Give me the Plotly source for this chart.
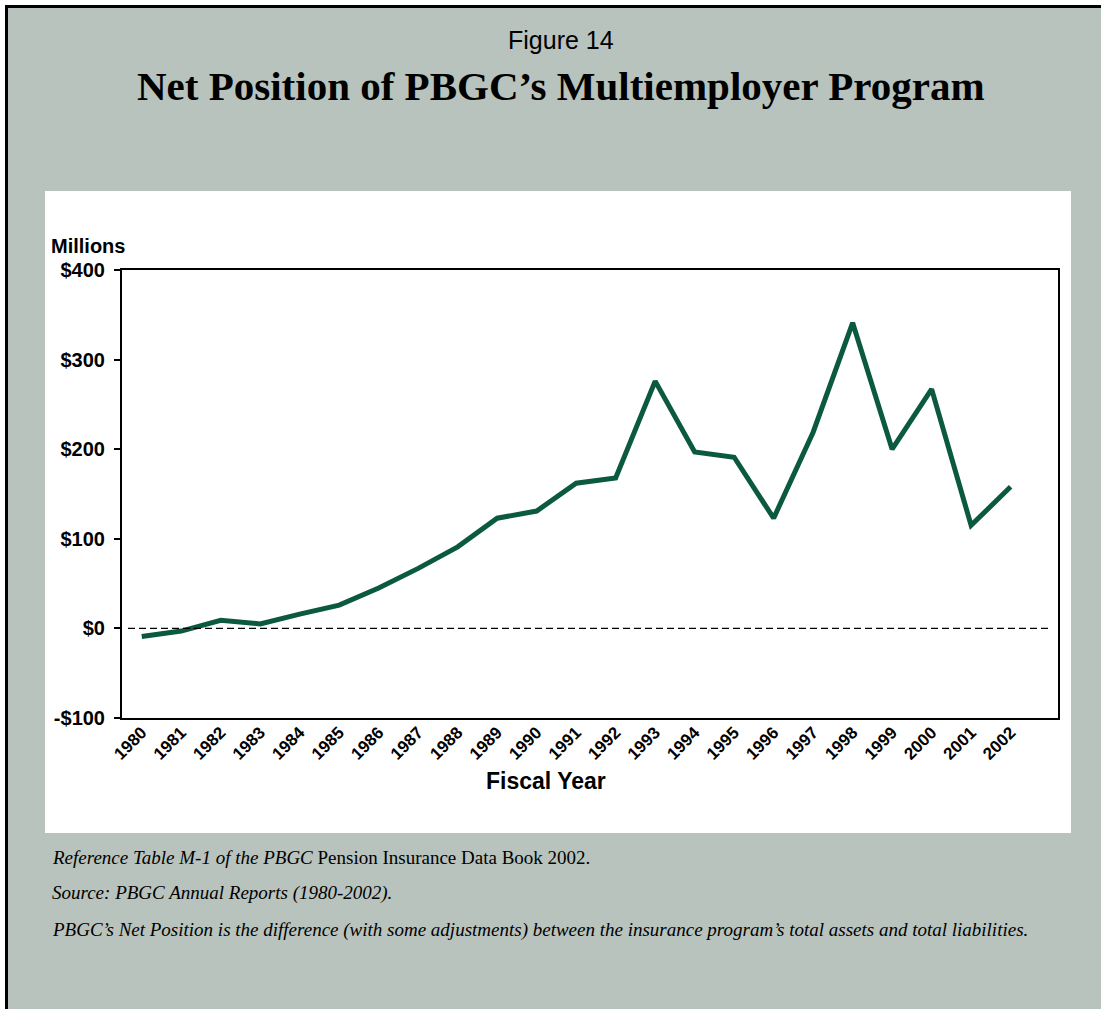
import plotly.graph_objects as go

years = [str(y) for y in range(1980, 2003)]
net_position = [-9, -3, 9, 5, 16, 26, 45, 67, 91, 123, 131, 162, 168,
                276, 197, 191, 123, 219, 341, 200, 267, 115, 158]

y_ticks = [-100, 0, 100, 200, 300, 400]
y_tick_labels = ["-$100", "$0", "$100", "$200", "$300", "$400"]

W, H = 1101, 1009
ML, MR, MT, MB = 122, 43, 270, 291
PW, PH = W - ML - MR, H - MT - MB

LINE_GREEN = "#0b5a40"
PANEL_GRAY = "#b8c3bd"
SANS = "Liberation Sans, Arial, sans-serif"
SERIF = "Liberation Serif, Times New Roman, serif"


def px(x):
    return (x - ML) / PW


def py(y):
    return (H - MB - y) / PH


fig = go.Figure()

fig.add_trace(
    go.Scatter(
        x=years,
        y=net_position,
        mode="lines",
        line=dict(color=LINE_GREEN, width=5),
        hovertemplate="%{x}: $%{y}M<extra></extra>",
    )
)

shapes = [
    # gray page
    dict(type="rect", xref="paper", yref="paper", layer="below",
         x0=px(7), x1=px(W + 5), y0=py(H + 5), y1=py(6),
         fillcolor=PANEL_GRAY, line=dict(width=0)),
    # white chart panel
    dict(type="rect", xref="paper", yref="paper", layer="below",
         x0=px(45), x1=px(1071), y0=py(833), y1=py(191),
         fillcolor="white", line=dict(width=0)),
    # black frame on left and top
    dict(type="line", xref="paper", yref="paper",
         x0=px(6.5), x1=px(6.5), y0=py(H + 5), y1=py(5),
         line=dict(color="black", width=3)),
    dict(type="line", xref="paper", yref="paper",
         x0=px(5), x1=px(W + 5), y0=py(6.5), y1=py(6.5),
         line=dict(color="black", width=3)),
    # zero line
    dict(type="line", xref="paper", yref="y",
         x0=px(128), x1=px(1050), y0=0, y1=0,
         line=dict(color="black", width=1.2, dash="7px,4px")),
]

footnotes = [
    "<i>Reference Table M-1 of the PBGC</i> Pension Insurance Data Book 2002.",
    "<i>Source: PBGC Annual Reports (1980-2002).</i>",
    "<i>PBGC’s Net Position is the difference (with some adjustments) between "
    "the insurance program’s total assets and total liabilities.</i>",
]
footnote_y = [857, 893, 930]

annotations = [
    dict(text="Figure 14", x=px(561), y=py(40), xref="paper", yref="paper",
         showarrow=False, xanchor="center", yanchor="middle",
         font=dict(family=SANS, size=25, color="black")),
    dict(text="<b>Net Position of PBGC’s Multiemployer Program</b>",
         x=px(561), y=py(86), xref="paper", yref="paper",
         showarrow=False, xanchor="center", yanchor="middle",
         font=dict(family=SERIF, size=41, color="black")),
    dict(text="<b>Millions</b>", x=px(49), y=py(246), xref="paper", yref="paper",
         showarrow=False, xanchor="left", yanchor="middle",
         font=dict(family=SANS, size=20, color="black")),
    dict(text="<b>Fiscal Year</b>", x=px(546), y=py(781), xref="paper", yref="paper",
         showarrow=False, xanchor="center", yanchor="middle",
         font=dict(family=SANS, size=23, color="black")),
]
for text, y in zip(footnotes, footnote_y):
    annotations.append(
        dict(text=text, x=px(50), y=py(y), xref="paper", yref="paper",
             showarrow=False, xanchor="left", yanchor="middle",
             font=dict(family=SERIF, size=19, color="black"))
    )

fig.update_layout(
    width=W,
    height=H,
    margin=dict(l=ML, r=MR, t=MT, b=MB, pad=0),
    paper_bgcolor="white",
    plot_bgcolor="white",
    showlegend=False,
    shapes=shapes,
    annotations=annotations,
)

fig.update_xaxes(
    type="category",
    range=[-0.5, 23.2],
    showline=True, mirror=True, linecolor="black", linewidth=2,
    showgrid=False, zeroline=False, ticks="",
    tickangle=-45,
    ticklabelstandoff=-4,
    tickfont=dict(family=SANS, size=17, color="black", weight="bold"),
)

fig.update_yaxes(
    range=[-100, 400],
    tickvals=y_ticks,
    ticktext=y_tick_labels,
    showline=True, mirror=True, linecolor="black", linewidth=2,
    showgrid=False, zeroline=False,
    ticks="outside", ticklen=6, tickwidth=2, tickcolor="black",
    ticklabelstandoff=5,
    tickfont=dict(family=SANS, size=20, color="black", weight="bold"),
)

# the page body has a default 8px margin; drop it so the figure sits at 0,0
fig.write_html(
    "out.html",
    config={"displayModeBar": False},
    post_script="document.body.style.margin='0px';",
)
